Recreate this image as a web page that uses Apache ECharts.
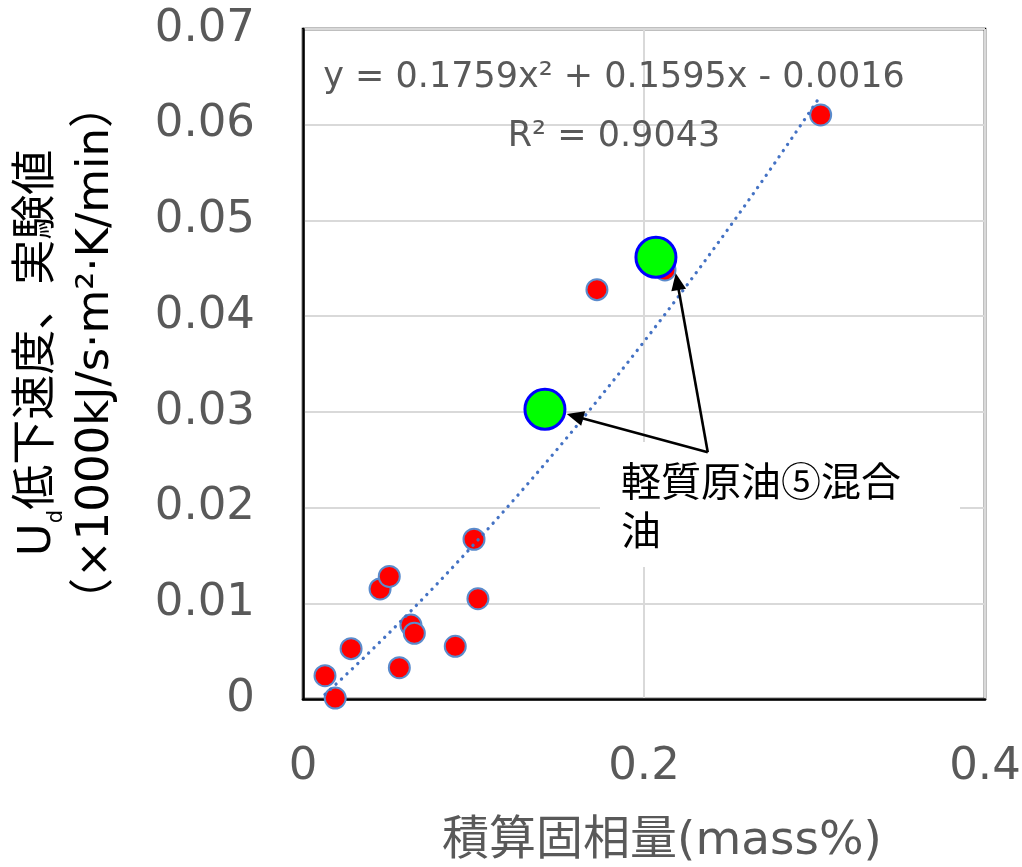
<!DOCTYPE html>
<html>
<head>
<meta charset="utf-8">
<script src="https://cdn.jsdelivr.net/npm/echarts@6/dist/echarts.min.js"></script>
<style>
  html, body { margin: 0; padding: 0; background: #fff; }
  #chart { width: 1022px; height: 867px; }
</style>
</head>
<body>
<div id="chart"></div>
<script>
// Axis ticks
const xTicks = [0, 0.2, 0.4];
const yTicks = [0, 0.01, 0.02, 0.03, 0.04, 0.05, 0.06, 0.07];

// Measured samples: accumulated solid fraction vs Ud drop rate
const solidX = [0.0129, 0.0189, 0.0282, 0.0452, 0.0506, 0.0565, 0.0633, 0.0653, 0.0893, 0.1026, 0.1003, 0.1724, 0.3036, 0.2123];
const rateY  = [0.00243, 0.0001, 0.00526, 0.0115, 0.0128, 0.00327, 0.00773, 0.00687, 0.00551, 0.01048, 0.01669, 0.04277, 0.06102, 0.04483];

// Light crude ⑤ blended oil
const blendX = [0.2070, 0.1419];
const blendY = [0.04615, 0.03027];

// Quadratic trendline as stated in its label: y = a x^2 + b x + c
const fitA = 0.1759;
const fitB = 0.1595;
const fitC = -0.0016;
const fitR2 = 0.9043;

// Callout text and arrow anchors (data coordinates)
const calloutLines = ['軽質原油⑤混合', '油'];
const arrowTail = [0.2374, 0.02578];
const arrowTips = [[0.2186, 0.04448], [0.1547, 0.02978]];

const LATIN = 'DejaVu Sans';
const CJK = '"Noto Sans CJK JP"';
const GRAY = '#595959';

const xMin = Math.min(...solidX), xMax = Math.max(...solidX);
const trend = [];
const steps = 120;
for (let i = 0; i <= steps; i++) {
  const x = xMin + (xMax - xMin) * i / steps;
  trend.push([x, fitA * x * x + fitB * x + fitC]);
}

const eqText = 'y = ' + fitA.toFixed(4) + 'x² + ' + fitB.toFixed(4) + 'x ' +
  (fitC < 0 ? '- ' : '+ ') + Math.abs(fitC).toFixed(4);
const r2Text = 'R² = ' + fitR2.toFixed(4);

const chart = echarts.init(document.getElementById('chart'), null, { renderer: 'canvas' });

chart.setOption({
  animation: false,
  backgroundColor: '#fff',
  grid: {
    left: 303, right: 37, top: 29, bottom: 168,
    outerBoundsMode: 'none',
    containLabel: false,
    show: true, borderColor: '#000', borderWidth: 2.5, backgroundColor: 'transparent'
  },
  xAxis: {
    type: 'value',
    min: xTicks[0], max: xTicks[xTicks.length - 1], interval: xTicks[1] - xTicks[0],
    axisLine: { show: true, lineStyle: { color: '#000', width: 2.5 } },
    axisTick: { show: false },
    splitLine: { show: true, lineStyle: { color: '#d9d9d9', width: 2 } },
    axisLabel: {
      margin: 46, color: GRAY, fontFamily: LATIN, fontSize: 45,
      formatter: v => (v === 0 ? '0' : v.toFixed(1))
    },
    name: '積算固相量(mass%)',
    nameLocation: 'middle',
    nameGap: 119,
    nameTextStyle: { color: GRAY, fontSize: 47, fontFamily: LATIN + ', ' + CJK, padding: [0, 0, 0, 36] }
  },
  yAxis: {
    type: 'value',
    min: yTicks[0], max: yTicks[yTicks.length - 1], interval: yTicks[1] - yTicks[0],
    axisLine: { show: true, lineStyle: { color: '#000', width: 2.5 } },
    axisTick: { show: false },
    splitLine: { show: true, lineStyle: { color: '#d9d9d9', width: 2 } },
    axisLabel: {
      margin: 48, color: GRAY, fontFamily: LATIN, fontSize: 45,
      padding: [6, 0, 0, 0],
      formatter: v => (v === 0 ? '0' : v.toFixed(2))
    },
    name: '{a|U}{s|d}{a|低下速度、実験値}\n{a|（×1000kJ/s·m²·K/min）}',
    nameLocation: 'middle',
    nameRotate: 90,
    nameGap: 178,
    nameTextStyle: {
      padding: [0, 0, 0, 22],
      rich: {
        a: { fontSize: 45, lineHeight: 58, color: '#000', fontFamily: LATIN + ', ' + CJK },
        s: { fontSize: 21, lineHeight: 17, color: '#000', fontFamily: LATIN, verticalAlign: 'bottom' }
      }
    }
  },
  series: [
    {
      name: '実験値',
      type: 'scatter',
      z: 2,
      symbol: 'circle',
      symbolSize: 21,
      itemStyle: { color: '#ff0000', borderColor: '#5a8bcc', borderWidth: 2, opacity: 1 },
      data: solidX.map((x, i) => [x, rateY[i]])
    },
    {
      name: '近似曲線',
      type: 'line',
      z: 3,
      showSymbol: false,
      symbol: 'none',
      smooth: false,
      lineStyle: { color: '#4472c4', width: 3.3, type: [0.1, 7.4], cap: 'round' },
      data: trend
    },
    {
      name: '軽質原油⑤混合油',
      type: 'scatter',
      z: 4,
      symbol: 'circle',
      symbolSize: 40,
      itemStyle: { color: '#00ff00', borderColor: '#0000ff', borderWidth: 3, opacity: 1 },
      data: blendX.map((x, i) => [x, blendY[i]])
    }
  ],
  graphic: [
    {
      id: 'eq', type: 'text', x: 614, y: 78, z: 5,
      style: { text: eqText, fill: GRAY, fontSize: 35, fontFamily: LATIN, align: 'center', verticalAlign: 'middle' }
    },
    {
      id: 'r2', type: 'text', x: 614, y: 137, z: 5,
      style: { text: r2Text, fill: GRAY, fontSize: 35, fontFamily: LATIN, align: 'center', verticalAlign: 'middle' }
    },
    {
      id: 'calloutBox', type: 'rect', z: 1,
      shape: { x: 600, y: 442, width: 360, height: 125 },
      style: { fill: '#fff' }
    },
    {
      id: 'calloutText', type: 'text', x: 621, y: 505, z: 6,
      style: { text: calloutLines.join('\n'), fill: '#000', fontSize: 40, lineHeight: 49,
               fontFamily: CJK, align: 'left', verticalAlign: 'middle' }
    }
  ]
});

// Arrows from the callout to the blended-oil points, placed through the axes' scales
const tail = chart.convertToPixel({ gridIndex: 0 }, arrowTail);
const arrowGraphics = [];
arrowTips.forEach((tipData, i) => {
  const tip = chart.convertToPixel({ gridIndex: 0 }, tipData);
  const dx = tip[0] - tail[0], dy = tip[1] - tail[1];
  const len = Math.sqrt(dx * dx + dy * dy);
  const ux = dx / len, uy = dy / len;
  const headLen = 17, headHalf = 7.5;
  const base = [tip[0] - ux * headLen, tip[1] - uy * headLen];
  arrowGraphics.push({
    id: 'arrowLine' + i, type: 'line', z: 20,
    shape: { x1: tail[0], y1: tail[1], x2: base[0] + ux * 2, y2: base[1] + uy * 2 },
    style: { stroke: '#000', lineWidth: 2.6 }
  });
  arrowGraphics.push({
    id: 'arrowHead' + i, type: 'polygon', z: 20,
    shape: { points: [
      tip,
      [base[0] - uy * headHalf, base[1] + ux * headHalf],
      [base[0] + uy * headHalf, base[1] - ux * headHalf]
    ] },
    style: { fill: '#000' }
  });
});
chart.setOption({ graphic: arrowGraphics });
</script>
</body>
</html>
